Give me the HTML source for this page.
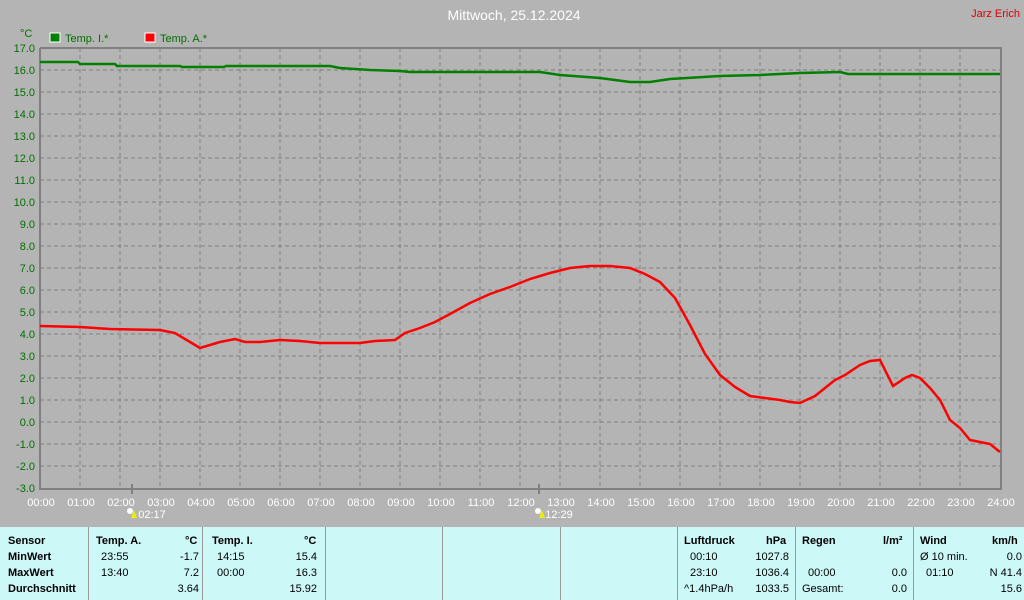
<!DOCTYPE html>
<html><head><meta charset="utf-8"><style>
body{margin:0;width:1024px;height:600px;background:#b4b4b4;overflow:hidden;font-family:"Liberation Sans",sans-serif}
svg{position:absolute;left:0;top:0}
.tb{position:absolute;left:0;top:527px;width:1024px;height:73px;background:#ccf8f8}
.c{position:absolute;top:0;height:73px;border-right:1px solid #999}
.t{position:absolute;font-size:11px;color:#000;white-space:nowrap}
.b{font-weight:bold}
</style></head><body>
<svg width="1024" height="527" font-family="Liberation Sans, sans-serif">
<text x="514" y="20" fill="#fff" font-size="14" text-anchor="middle">Mittwoch, 25.12.2024</text>
<text x="1020" y="17" fill="#e00000" font-size="11" text-anchor="end">Jarz Erich</text>
<text x="20" y="37" fill="#007000" font-size="11">°C</text>
<rect x="50" y="33" width="10" height="9" fill="#008000" stroke="#fff"/>
<text x="65" y="42" fill="#007000" font-size="11">Temp. I.*</text>
<rect x="145" y="33" width="10" height="9" fill="#f00" stroke="#fff"/>
<text x="160" y="42" fill="#007000" font-size="11">Temp. A.*</text>
<g stroke="#808080" stroke-dasharray="4,3" stroke-width="1">
<path d="M80,48V488M120,48V488M160,48V488M200,48V488M240,48V488M280,48V488M320,48V488M360,48V488M400,48V488M440,48V488M480,48V488M520,48V488M560,48V488M600,48V488M640,48V488M680,48V488M720,48V488M760,48V488M800,48V488M840,48V488M880,48V488M920,48V488M960,48V488"/>
<path d="M40,70H1000M40,92H1000M40,114H1000M40,136H1000M40,158H1000M40,180H1000M40,202H1000M40,224H1000M40,246H1000M40,268H1000M40,290H1000M40,312H1000M40,334H1000M40,356H1000M40,378H1000M40,400H1000M40,422H1000M40,444H1000M40,466H1000"/>
</g>
<path d="M40,48V489H1001V48H40" fill="none" stroke="#808080" stroke-width="2"/>
<path d="M132,484V494M539,484V494" stroke="#808080" stroke-width="2"/>
<g fill="#007000" font-size="11" text-anchor="end">
<text x="35" y="52">17.0</text><text x="35" y="74">16.0</text><text x="35" y="96">15.0</text><text x="35" y="118">14.0</text><text x="35" y="140">13.0</text><text x="35" y="162">12.0</text><text x="35" y="184">11.0</text><text x="35" y="206">10.0</text><text x="35" y="228">9.0</text><text x="35" y="250">8.0</text><text x="35" y="272">7.0</text><text x="35" y="294">6.0</text><text x="35" y="316">5.0</text><text x="35" y="338">4.0</text><text x="35" y="360">3.0</text><text x="35" y="382">2.0</text><text x="35" y="404">1.0</text><text x="35" y="426">0.0</text><text x="35" y="448">-1.0</text><text x="35" y="470">-2.0</text><text x="35" y="492">-3.0</text>
</g>
<g fill="#fff" font-size="11" text-anchor="middle">
<text x="41" y="506">00:00</text><text x="81" y="506">01:00</text><text x="121" y="506">02:00</text><text x="161" y="506">03:00</text><text x="201" y="506">04:00</text><text x="241" y="506">05:00</text><text x="281" y="506">06:00</text><text x="321" y="506">07:00</text><text x="361" y="506">08:00</text><text x="401" y="506">09:00</text><text x="441" y="506">10:00</text><text x="481" y="506">11:00</text><text x="521" y="506">12:00</text><text x="561" y="506">13:00</text><text x="601" y="506">14:00</text><text x="641" y="506">15:00</text><text x="681" y="506">16:00</text><text x="721" y="506">17:00</text><text x="761" y="506">18:00</text><text x="801" y="506">19:00</text><text x="841" y="506">20:00</text><text x="881" y="506">21:00</text><text x="921" y="506">22:00</text><text x="961" y="506">23:00</text><text x="1001" y="506">24:00</text>
<text x="152" y="518">02:17</text><text x="559" y="518">12:29</text>
</g>
<circle cx="130" cy="511" r="3" fill="#fff"/><path d="M131,518L134,510L137,518Z" fill="#ee0"/>
<circle cx="538" cy="511" r="3" fill="#fff"/><path d="M539,518L542,510L545,518Z" fill="#ee0"/>
<polyline fill="none" stroke="#008000" stroke-width="2.5" points="40,62 78,62 80,64 115,64 117,66 180,66 182,67 224,67 226,66 330,66 340,68 370,70 400,71 410,72 540,72 560,75 600,78 630,82 650,82 670,79 720,76 760,75 800,73 840,72 848,74 1000,74"/>
<polyline fill="none" stroke="#f00" stroke-width="2.5" points="40,326 80,327 110,329 160,330 175,333 190,342 200,348 210,345 220,342 235,339 245,342 260,342 280,340 300,341 320,343 350,343 360,343 375,341 395,340 405,333 420,328 435,322 450,314 470,303 490,294 510,287 530,279 550,273 570,268 590,266 610,266 630,268 645,274 660,282 675,298 690,325 705,354 720,375 735,387 750,396 765,398 780,400 790,402 800,403 815,396 825,388 835,380 845,375 860,365 870,361 880,360 885,370 893,386 905,378 912,375 920,378 930,388 940,400 950,420 960,428 970,440 980,442 990,444 1000,452"/>
</svg>
<div class="tb">
<div class="c" style="left:0;width:88px"></div><div class="c" style="left:88px;width:114px"></div><div class="c" style="left:202px;width:123px"></div><div class="c" style="left:325px;width:117px"></div><div class="c" style="left:442px;width:118px"></div><div class="c" style="left:560px;width:117px"></div><div class="c" style="left:677px;width:118px"></div><div class="c" style="left:795px;width:118px"></div>
<div class="t b" style="left:8px;top:8px">Sensor</div><div class="t b" style="left:8px;top:24px">MinWert</div><div class="t b" style="left:8px;top:40px">MaxWert</div><div class="t b" style="left:8px;top:56px">Durchschnitt</div>
<div class="t b" style="left:96px;top:8px">Temp. A.</div><div class="t b" style="left:185px;top:8px">°C</div>
<div class="t" style="left:101px;top:24px">23:55</div><div class="t" style="right:825px;top:24px">-1.7</div>
<div class="t" style="left:101px;top:40px">13:40</div><div class="t" style="right:825px;top:40px">7.2</div>
<div class="t" style="right:825px;top:56px">3.64</div>
<div class="t b" style="left:212px;top:8px">Temp. I.</div><div class="t b" style="left:304px;top:8px">°C</div>
<div class="t" style="left:217px;top:24px">14:15</div><div class="t" style="right:707px;top:24px">15.4</div>
<div class="t" style="left:217px;top:40px">00:00</div><div class="t" style="right:707px;top:40px">16.3</div>
<div class="t" style="right:707px;top:56px">15.92</div>
<div class="t b" style="left:684px;top:8px">Luftdruck</div><div class="t b" style="left:766px;top:8px">hPa</div>
<div class="t" style="left:690px;top:24px">00:10</div><div class="t" style="right:235px;top:24px">1027.8</div>
<div class="t" style="left:690px;top:40px">23:10</div><div class="t" style="right:235px;top:40px">1036.4</div>
<div class="t" style="left:684px;top:56px">^1.4hPa/h</div><div class="t" style="right:235px;top:56px">1033.5</div>
<div class="t b" style="left:802px;top:8px">Regen</div><div class="t b" style="left:883px;top:8px">l/m²</div>
<div class="t" style="left:808px;top:40px">00:00</div><div class="t" style="right:117px;top:40px">0.0</div>
<div class="t" style="left:802px;top:56px">Gesamt:</div><div class="t" style="right:117px;top:56px">0.0</div>
<div class="t b" style="left:920px;top:8px">Wind</div><div class="t b" style="left:992px;top:8px">km/h</div>
<div class="t" style="left:920px;top:24px">Ø 10 min.</div><div class="t" style="right:2px;top:24px">0.0</div>
<div class="t" style="left:926px;top:40px">01:10</div><div class="t" style="right:2px;top:40px">N 41.4</div>
<div class="t" style="right:2px;top:56px">15.6</div>
</div>
</body></html>
